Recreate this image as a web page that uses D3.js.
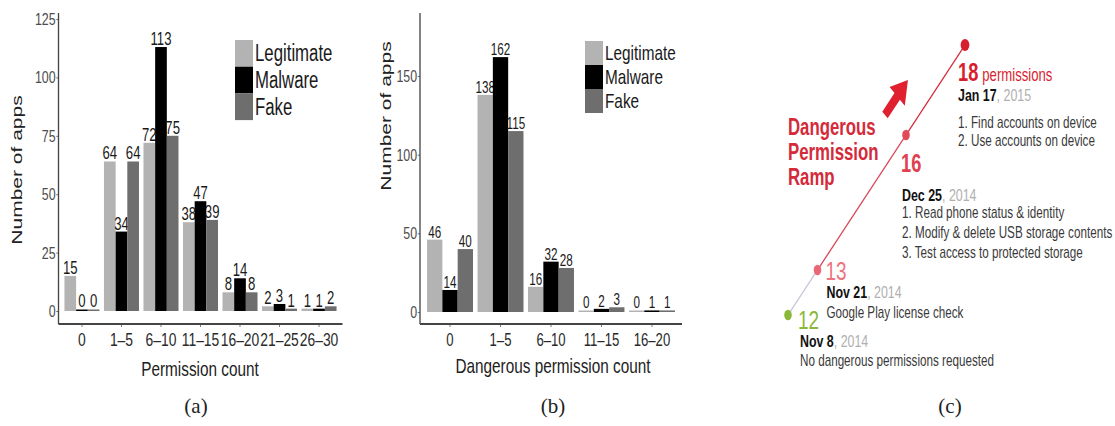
<!DOCTYPE html>
<html>
<head>
<meta charset="utf-8">
<script src="https://cdn.jsdelivr.net/npm/d3@7"></script>
<style>
  body { margin: 0; background: #fff; }
  svg { display: block; font-family: "Liberation Sans", Arial, sans-serif; }
</style>
</head>
<body>
<div id="chart"></div>
<script>
// ---- data ----
const seriesNames = ["Legitimate", "Malware", "Fake"];

// (a) permission count
const categoriesA = ["0", "1–5", "6–10", "11–15", "16–20", "21–25", "26–30"];
const legitimateA = [15, 64, 72, 38, 8, 2, 1];
const malwareA = [0, 34, 113, 47, 14, 3, 1];
const fakeA = [0, 64, 75, 39, 8, 1, 2];
const ticksA = [0, 25, 50, 75, 100, 125];

// (b) dangerous permission count
const categoriesB = ["0", "1–5", "6–10", "11–15", "16–20"];
const legitimateB = [46, 138, 16, 0, 0];
const malwareB = [14, 162, 32, 2, 1];
const fakeB = [40, 115, 28, 3, 1];
const ticksB = [0, 50, 100, 150];

// (c) dangerous permission ramp
const rampCounts = [12, 13, 16, 18];
const rampDates = ["Nov 8", "Nov 21", "Dec 25", "Jan 17"];
const rampYears = ["2014", "2014", "2014", "2015"];
const rampNotes = [
  ["No dangerous permissions requested"],
  ["Google Play license check"],
  ["1. Read phone status & identity", "2. Modify & delete USB storage contents", "3. Test access to protected storage"],
  ["1. Find accounts on device", "2. Use accounts on device"]
];

// ---- setup ----
const width = 1115;
const height = 426;
// the whole figure is horizontally squeezed
const SX = 0.73;
const fx = x => x / SX;

const colors = ["#b3b3b3", "#000000", "#6e6e6e"];

const svg = d3.select("#chart").append("svg")
  .attr("width", width)
  .attr("height", height);

const fig = svg.append("g").attr("transform", `scale(${SX},1)`);

// draws one grouped bar panel
function barPanel(opts) {
  const { cats, values, ticks, yMax, left, right, yZero, yTop, axisTop, axisY,
          legendX, legendY, legendRow, legendFont, labelFont, tickFont, titleX, titleY, xTitle,
          yTitleX, yTitleY } = opts;

  const x = d3.scaleBand()
    .domain(cats)
    .range([fx(left), fx(right)])
    .paddingInner(opts.padIn)
    .paddingOuter(0.1);

  const xs = d3.scaleBand()
    .domain(seriesNames)
    .range([0, x.bandwidth()]);

  const y = d3.scaleLinear()
    .domain([0, yMax])
    .range([yZero, yTop]);

  const g = fig.append("g");

  // bars
  seriesNames.forEach((name, si) => {
    const grp = g.append("g");
    grp.selectAll("rect")
      .data(values[si])
      .enter().append("rect")
      .attr("x", (d, i) => x(cats[i]) + xs(name))
      .attr("width", xs.bandwidth())
      .attr("y", d => Math.min(y(d), yZero - 1.5))
      .attr("height", d => Math.max(yZero - y(d), 1.5))
      .style("fill", colors[si]);

    grp.selectAll("text")
      .data(values[si])
      .enter().append("text")
      .attr("x", (d, i) => x(cats[i]) + xs(name) + xs.bandwidth() / 2)
      .attr("y", d => Math.min(y(d), yZero - 1.5) - 2)
      .attr("text-anchor", "middle")
      .style("font-size", labelFont + "px")
      .style("fill", "#1a1a1a")
      .text(d => d);
  });

  // axes
  const yAxis = g.append("g")
    .attr("transform", `translate(${fx(left - 2)},0)`)
    .call(d3.axisLeft(y).tickValues(ticks).tickSizeInner(3).tickSizeOuter(0).tickPadding(1));
  yAxis.select(".domain").remove();
  yAxis.selectAll("line").attr("stroke", "#555");
  yAxis.selectAll("text").style("font-size", "17px").style("fill", "#4d4d4d").style("font-family", null);

  const xAxis = g.append("g")
    .attr("transform", `translate(0,${axisY})`)
    .call(d3.axisBottom(x).tickSizeInner(3).tickSizeOuter(0).tickPadding(6));
  xAxis.select(".domain").remove();
  xAxis.selectAll("line").attr("stroke", "#666");
  xAxis.selectAll("text").style("font-size", tickFont + "px").style("fill", "#2a2a2a").style("font-family", null);

  g.append("line")
    .attr("x1", fx(left - 2)).attr("x2", fx(left - 2))
    .attr("y1", axisTop).attr("y2", axisY)
    .attr("stroke", "#444").attr("stroke-width", 1.8);
  g.append("line")
    .attr("x1", fx(left - 2)).attr("x2", fx(right + 2))
    .attr("y1", axisY).attr("y2", axisY)
    .attr("stroke", "#444").attr("stroke-width", 1.8);

  // titles
  g.append("text")
    .attr("x", fx(titleX)).attr("y", titleY)
    .attr("text-anchor", "middle")
    .style("font-size", "21px").style("fill", "#222")
    .text(xTitle);

  g.append("text")
    .attr("transform", `translate(${fx(yTitleX)},${yTitleY}) rotate(-90)`)
    .attr("text-anchor", "middle")
    .style("font-size", "21px").style("fill", "#222")
    .text("Number of apps");

  // legend
  const legend = g.selectAll(".legend")
    .data(seriesNames)
    .enter().append("g")
    .attr("class", "legend")
    .attr("transform", (d, i) => `translate(${fx(legendX)},${legendY + i * legendRow})`);

  legend.append("rect")
    .attr("width", fx(18))
    .attr("height", legendRow)
    .style("fill", (d, i) => colors[i]);

  legend.append("text")
    .attr("x", fx(20))
    .attr("y", legendRow / 2)
    .attr("dy", "0.35em")
    .style("font-size", legendFont + "px")
    .style("fill", "#1a1a1a")
    .text(d => d);
}

barPanel({
  cats: categoriesA, values: [legitimateA, malwareA, fakeA], ticks: ticksA, yMax: 125,
  left: 60.5, right: 340.5, padIn: 0.114, yZero: 311, yTop: 19, axisTop: 13, axisY: 324,
  legendX: 235, legendY: 40, legendRow: 26.7, legendFont: 23, labelFont: 18, tickFont: 19,
  titleX: 200, titleY: 376, xTitle: "Permission count", yTitleX: 22, yTitleY: 170
});

barPanel({
  cats: categoriesB, values: [legitimateB, malwareB, fakeB], ticks: ticksB, yMax: 150,
  left: 422, right: 680, padIn: 0.09, yZero: 312, yTop: 76, axisTop: 13, axisY: 324,
  legendX: 585, legendY: 41, legendRow: 24, legendFont: 21, labelFont: 16, tickFont: 18,
  titleX: 553, titleY: 373, xTitle: "Dangerous permission count", yTitleX: 391, yTitleY: 116
});

// ---- (c) ramp ----
const rx = d3.scaleLinear().domain([12, 18]).range([fx(788), fx(965)]);
const ry = d3.scaleLinear().domain([12, 18]).range([315, 45]);

const dotColors = ["#8cb83a", "#ea6876", "#e24a58", "#d81e2e"];
const numColors = ["#8cb83a", "#ee7480", "#e0404f", "#d81e2e"];
const segColors = ["#cbc3d6", "#d6485a", "#d62a3b"];

const ramp = fig.append("g");

ramp.selectAll(".seg")
  .data(d3.pairs(rampCounts))
  .enter().append("line")
  .attr("x1", d => rx(d[0])).attr("y1", d => ry(d[0]))
  .attr("x2", d => rx(d[1])).attr("y2", d => ry(d[1]))
  .attr("stroke", (d, i) => segColors[i])
  .attr("stroke-width", 1.6);

ramp.selectAll(".dot")
  .data(rampCounts)
  .enter().append("circle")
  .attr("cx", d => rx(d)).attr("cy", d => ry(d))
  .attr("r", (d, i) => i === 3 ? 6 : 5.2)
  .style("fill", (d, i) => dotColors[i]);

// label offsets from each dot (screen px)
const labelLayout = [
  { nx: 10, ny: 14, dx: 12, dy: 32, ly: 51, step: 20, size: 26 },
  { nx: 8, ny: 10, dx: 9, dy: 28, ly: 48, step: 20, size: 26 },
  { nx: -5, ny: 37, dx: -4, dy: 66, ly: 83, step: 20, size: 25 },
  { nx: -7, ny: 36, dx: -7, dy: 56, ly: 83, step: 18.5, size: 25 }
];

rampCounts.forEach((c, i) => {
  const L = labelLayout[i];
  const cx = rx(c), cy = ry(c);

  const num = ramp.append("text")
    .attr("x", cx + fx(L.nx)).attr("y", cy + L.ny)
    .style("font-size", L.size + "px")
    .style("font-weight", i >= 2 ? "bold" : "normal")
    .style("fill", numColors[i]);
  num.append("tspan").text(c);
  if (i === 3) {
    num.append("tspan").attr("dx", fx(4)).style("font-size", "18px").style("font-weight", "normal").text("permissions");
  }

  const date = ramp.append("text")
    .attr("x", cx + fx(L.dx)).attr("y", cy + L.dy)
    .style("font-size", "17px");
  date.append("tspan").style("font-weight", "bold").style("fill", "#111").text(rampDates[i]);
  date.append("tspan").style("fill", "#b0b0b0").text(", " + rampYears[i]);

  ramp.selectAll(null)
    .data(rampNotes[i])
    .enter().append("text")
    .attr("x", cx + fx(L.dx)).attr("y", (d, j) => cy + L.ly + j * L.step)
    .style("font-size", "16px")
    .style("fill", "#3a3a3a")
    .text(d => d);
});

// ramp title
ramp.selectAll(".rtitle")
  .data(["Dangerous", "Permission", "Ramp"])
  .enter().append("text")
  .attr("x", fx(788)).attr("y", (d, i) => 135 + i * 25)
  .style("font-size", "23px").style("font-weight", "bold")
  .style("fill", "#d42a3a")
  .text(d => d);

// arrow parallel to the ramp
const angle = Math.atan2(ry(18) - ry(12), rx(18) - rx(12)) * 180 / Math.PI;
ramp.append("path")
  .attr("d", "M0,-5 L25,-5 L25,-14 L47,0 L25,14 L25,5 L0,5 Z")
  .attr("transform", `translate(${fx(885)},115) rotate(${angle})`)
  .style("fill", "#e0202e");

// ---- captions ----
svg.selectAll(".caption")
  .data([["(a)", 196], ["(b)", 553], ["(c)", 950]])
  .enter().append("text")
  .attr("x", d => d[1]).attr("y", 413)
  .attr("text-anchor", "middle")
  .style("font-family", "'Liberation Serif', serif")
  .style("font-size", "21px").style("fill", "#222")
  .text(d => d[0]);
</script>
</body>
</html>
